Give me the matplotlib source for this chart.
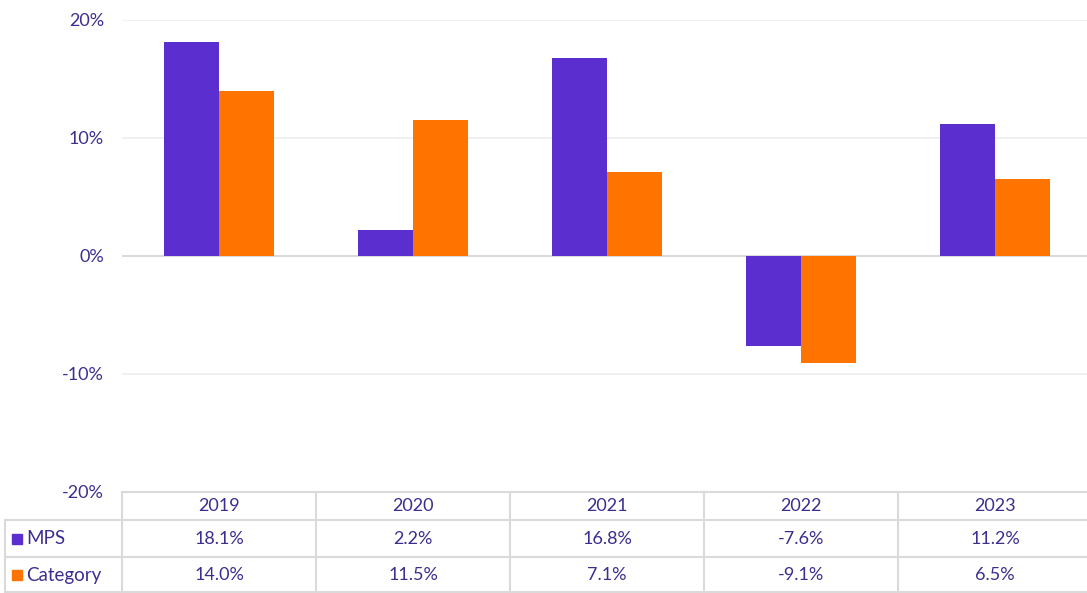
import matplotlib.pyplot as plt
import matplotlib.transforms as mtransforms
from matplotlib.patches import Rectangle
import numpy as np

# données
years = ["2019", "2020", "2021", "2022", "2023"]
series_names = ["MPS", "Category"]
mps = [18.1, 2.2, 16.8, -7.6, 11.2]
category = [14.0, 11.5, 7.1, -9.1, 6.5]

colors = ["#5B2ECF", "#FF7300"]
text_col = "#3E2D8F"
grid_col = "#EEEEEE"
line_col = "#DADADA"

plt.rcParams['font.family'] = ['Lato', 'DejaVu Sans']

W, H = 1087, 593
fig = plt.figure(figsize=(W / 100, H / 100), dpi=100)

# zone du graphique (en pixels) ; la dernière colonne déborde un peu à droite
x0, x1 = 122, 1092
y_top, y_bot = 20, 492
ax = fig.add_axes([x0 / W, 1 - y_bot / H, (x1 - x0) / W, (y_bot - y_top) / H])

x = np.arange(len(years))
width = 0.285
ax.bar(x - width / 2, mps, width=width, color=colors[0], label=series_names[0], zorder=3)
ax.bar(x + width / 2, category, width=width, color=colors[1], label=series_names[1], zorder=3)

ax.set_xlim(-0.5, len(years) - 0.5)
ax.set_ylim(-20, 20)
ax.set_yticks([-20, -10, 0, 10, 20])
ax.set_yticklabels([f"{v}%" for v in [-20, -10, 0, 10, 20]])
ax.tick_params(axis='y', length=0, pad=13, labelsize=13, labelcolor=text_col)
ax.set_xticks([])
ax.grid(axis='y', color=grid_col, linewidth=1.2, zorder=0)
ax.axhline(0, color=line_col, linewidth=1.5, zorder=2)
for s in ax.spines.values():
    s.set_visible(False)

# tableau de données sous le graphique
tab = fig.add_axes([0, 0, 1, 1], facecolor='none')
tab.set_xlim(0, W)
tab.set_ylim(H, 0)
tab.axis('off')
trans = mtransforms.blended_transform_factory(ax.transData, tab.transData)

rows_y = [492, 520, 557, 593]
left = 5
lw = 1.5
tab.plot([x0, W], [rows_y[0], rows_y[0]], color=line_col, lw=lw)
for yy in rows_y[1:]:
    tab.plot([left, W], [yy - (1 if yy == H else 0)] * 2, color=line_col, lw=lw)
tab.plot([left, left], [rows_y[1], H], color=line_col, lw=lw)
tab.plot([x0, x0], [rows_y[0], H], color=line_col, lw=lw)
for i in range(1, len(years)):
    tab.plot([i - 0.5, i - 0.5], [rows_y[0], H], color=line_col, lw=lw, transform=trans)

for i, yr in enumerate(years):
    tab.text(i, (rows_y[0] + rows_y[1]) / 2, yr, transform=trans,
             ha='center', va='center', fontsize=13, color=text_col)
for r, vals in enumerate([mps, category]):
    yc = (rows_y[r + 1] + rows_y[r + 2]) / 2
    for i, v in enumerate(vals):
        tab.text(i, yc, f"{v:.1f}%", transform=trans,
                 ha='center', va='center', fontsize=13, color=text_col)
    tab.add_patch(Rectangle((12, yc - 5), 10, 10, color=colors[r]))
    tab.text(26, yc, series_names[r], ha='left', va='center',
             fontsize=13.5, color=text_col)

fig.savefig("out.png", dpi=100)
